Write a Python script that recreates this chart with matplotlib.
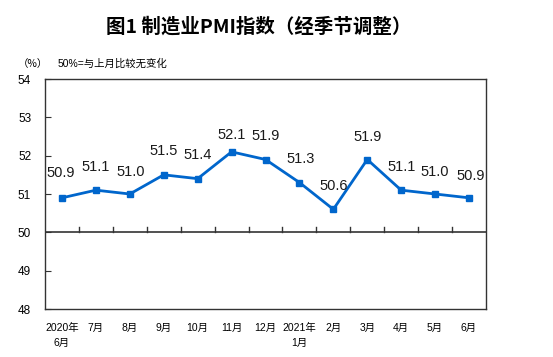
import matplotlib
matplotlib.use("Agg")
import matplotlib.pyplot as plt
import numpy as np

plt.rcParams["font.family"] = ["Liberation Sans", "Noto Sans CJK SC", "DejaVu Sans"]

months = ["2020年\n6月", "7月", "8月", "9月", "10月", "11月", "12月",
          "2021年\n1月", "2月", "3月", "4月", "5月", "6月"]
pmi = [50.9, 51.1, 51.0, 51.5, 51.4, 52.1, 51.9, 51.3, 50.6, 51.9, 51.1, 51.0, 50.9]
# label offsets in points (dx, dy) relative to each point
label_dx = [-1, 0, 1, 0, 0, 0, 0, 1, 0, 0, 0, 0, 1]
label_dy = [13, 12, 11, 12, 12, 7, 12, 12, 12, 11, 12, 11, 11]

line_color = "#0066CC"

fig = plt.figure(figsize=(5.53, 3.57), dpi=100)
ax = fig.add_axes([45 / 553, 1 - 309 / 357, (486 - 45) / 553, (309 - 79) / 357])

x = np.arange(len(months))
ax.plot(x, pmi, color=line_color, linewidth=2, marker="s", markersize=4.5)

for xi, v, dx, dy in zip(x, pmi, label_dx, label_dy):
    ax.annotate(f"{v:.1f}", (xi, v), xytext=(dx, dy), textcoords="offset points",
                ha="center", va="bottom", fontsize=10.5, color="#1a1a1a")

# 50 reference line with upward ticks at category boundaries
ax.axhline(50, color="#333333", linewidth=1.2)
for b in np.arange(0.5, len(months) - 1, 1.0):
    ax.plot([b, b], [50, 50.13], color="#333333", linewidth=1)

ax.set_xlim(-0.5, len(months) - 0.5)
ax.set_ylim(48, 54)
ax.set_yticks([48, 49, 50, 51, 52, 53, 54])
ax.set_xticks(x)
ax.set_xticklabels(months, fontsize=7.5, linespacing=1.6)
ax.tick_params(axis="x", length=0, pad=10)
ax.tick_params(axis="y", direction="in", length=4, labelsize=8.5, pad=10, color="#333333")
for s in ax.spines.values():
    s.set_color("#333333")
    s.set_linewidth(1)

fig.text(259 / 553, 1 - 27 / 357, "图1 制造业PMI指数（经季节调整）", ha="center", va="center",
         fontsize=14, fontweight="bold", family=["Noto Sans CJK SC", "DejaVu Sans"])
fig.text(18 / 553, 1 - 64 / 357, "（%）", ha="left", va="center", fontsize=7.5,
         family=["Noto Sans CJK SC", "DejaVu Sans"])
fig.text(58 / 553, 1 - 64 / 357, "50%=与上月比较无变化", ha="left", va="center", fontsize=7.5)

fig.savefig("out.png", dpi=100)
